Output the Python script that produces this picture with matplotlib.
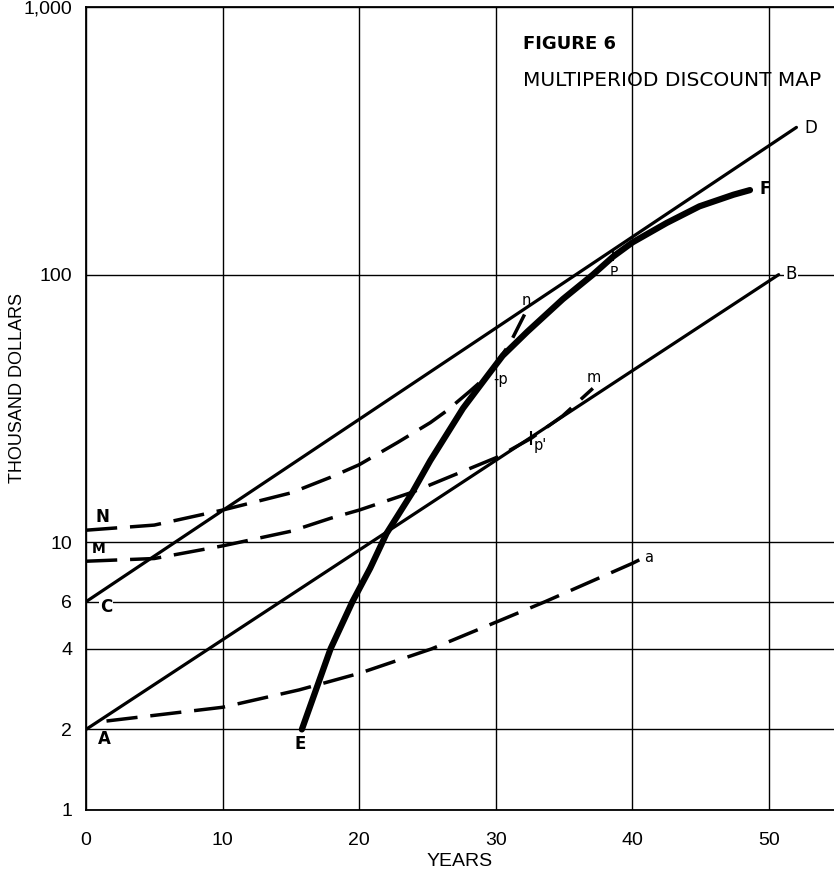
import numpy as np
import matplotlib
matplotlib.use("Agg")
import matplotlib.pyplot as plt
from matplotlib.ticker import NullLocator

# straight lines A-B and C-D (years, thousand dollars)
ab_x = [0, 50.7]
ab_y = [2, 100]
cd_x = [0, 52.0]
cd_y = [6, 355]

# heavy curve E-F
ef_x = [15.8, 17.9, 19.5, 20.8, 22.0, 23.9, 25.2, 26.4, 27.6, 29.4, 30.5, 32.3,
        34.9, 37.1, 38.6, 40.0, 42.5, 44.9, 47.4, 48.6]
ef_y = [2.0, 4.0, 6.0, 8.0, 10.8, 15.4, 20.2, 25.3, 31.7, 42.0, 49.8, 61.2,
        81, 100, 117, 132, 156, 180, 199, 207]

# dashed curves N-n, M-m and A-a
n_x = [0, 5, 10, 15, 17.9, 20, 22.8, 25.2, 26.4, 28.1, 29.4, 31.0, 32.1]
n_y = [11.1, 11.6, 13.2, 15.3, 17.5, 19.5, 23.6, 28.0, 31.0, 36.7, 42.0, 55, 71]
m_x = [0, 5, 10, 15, 17.9, 20, 23.9, 30.1, 32.6, 34.9, 37.1]
m_y = [8.5, 8.7, 9.7, 11.0, 12.3, 13.2, 15.4, 20.8, 24.5, 29.7, 37.6]
a_x = [1.5, 10, 15.6, 20, 25.3, 30, 33.6, 40, 40.5]
a_y = [2.15, 2.42, 2.81, 3.24, 4.0, 5.03, 6.0, 8.35, 8.6]

yticks = [1, 2, 4, 6, 10, 100, 1000]
ylabels = ["1", "2", "4", "6", "10", "100", "1,000"]
xticks = [0, 10, 20, 30, 40, 50]

narrow = ["Liberation Sans", "DejaVu Sans"]

fig = plt.figure(figsize=(8.34, 8.74), dpi=100)
ax = fig.add_axes([86/834, 1-810/874, 1-86/834, 803/874])
ax.set_yscale("log")
ax.set_ylim(1, 1000)
ax.set_xlim(0, 54.75)
ax.set_yticks(yticks)
ax.set_yticklabels(ylabels)
ax.yaxis.set_minor_locator(NullLocator())
ax.set_xticks(xticks)
ax.set_xticklabels([str(t) for t in xticks])
ax.grid(True, color="black", lw=1.0)
ax.tick_params(length=0, labelsize=14)
ax.tick_params(axis="y", pad=10)
ax.tick_params(axis="x", pad=16)
for lab in ax.get_xticklabels() + ax.get_yticklabels():
    lab.set_family(narrow)
ax.spines["right"].set_visible(False)
for s in ["left", "bottom", "top"]:
    ax.spines[s].set_linewidth(1.3)

dash = (9.0, 3.7)
ax.plot(ab_x, ab_y, color="black", lw=2.3, solid_capstyle="round")
ax.plot(cd_x, cd_y, color="black", lw=2.3, solid_capstyle="round")
ax.plot(n_x, n_y, color="black", lw=2.5, dashes=dash)
ax.plot(m_x, m_y, color="black", lw=2.5, dashes=dash)
ax.plot(a_x, a_y, color="black", lw=2.5, dashes=dash)
ax.plot(ef_x, ef_y, color="black", lw=4.5, solid_capstyle="round",
        solid_joinstyle="round")

def tag(s, x, y, dx, dy, size=12, weight="bold", ha="center", box=False):
    kw = dict(textcoords="offset points", xytext=(dx, dy), ha=ha, va="center",
              fontsize=size, fontweight=weight, family="DejaVu Sans")
    if box:
        kw["bbox"] = dict(facecolor="white", edgecolor="none", pad=1)
    ax.annotate(s, (x, y), **kw)

tag("A", ab_x[0], ab_y[0], 13, -7.2)
tag("B", ab_x[1], ab_y[1], 8.6, 0.7, weight="normal", box=True)
tag("C", cd_x[0], cd_y[0], 14.4, -3.6, box=True)
tag("D", cd_x[1], cd_y[1], 10, -0.7, weight="normal")
tag("E", ef_x[0], ef_y[0], -1.4, -10.8)
tag("F", ef_x[-1], ef_y[-1], 10.8, 0.7)
tag("N", n_x[0], n_y[0], 11.5, 9.4)
tag("M", m_x[0], m_y[0], 9.4, 8.6, size=10)
tag("n", n_x[-1], n_y[-1], 1.4, 10, size=10.5, weight="normal")
tag("m", m_x[-1], m_y[-1], 0.7, 8, size=10.5, weight="normal")
tag("a", a_x[-1], a_y[-1], 6.5, 1.4, size=10.5, weight="normal")
tag("-p", ef_x[9], ef_y[9], 4.0, -2.6, size=10.5, weight="normal", ha="left")
tag("p'", m_x[8], m_y[8], 6.5, -5, size=10.5, weight="normal")
tag("P", ef_x[14], ef_y[14], 0, -11.5, size=10, weight="normal")
ax.plot([m_x[8]], [m_y[8]], marker="|", ms=10, mew=1.5, color="black")
ax.plot([ef_x[14]], [ef_y[14]], marker="|", ms=7, mew=1.3, color="black")

fig.text(523/834, 1-44/874, "FIGURE 6", fontsize=13, fontweight="bold",
         ha="left", va="center")
fig.text(523/834, 1-80/874, "MULTIPERIOD DISCOUNT MAP", fontsize=14.5,
         ha="left", va="center")
fig.text(18/834, 1-388/874, "THOUSAND DOLLARS", rotation=90, fontsize=13,
         family=narrow, ha="center", va="center")
fig.text(460/834, 1-862/874, "YEARS", fontsize=14, family=narrow,
         ha="center", va="center")

fig.savefig("out.png", dpi=100)
